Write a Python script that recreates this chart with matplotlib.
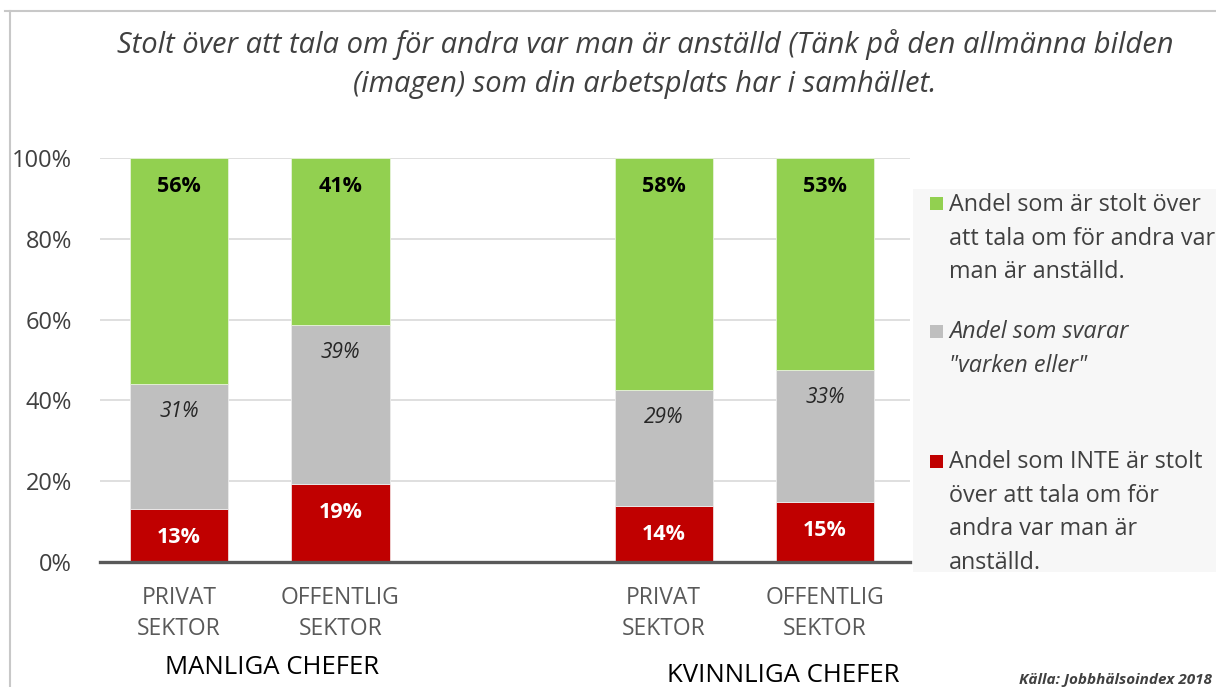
import matplotlib
matplotlib.use("Agg")
import matplotlib.pyplot as plt
from matplotlib.transforms import blended_transform_factory
from matplotlib.lines import Line2D
from matplotlib.patches import Rectangle
import numpy as np

# ---- data ----
categories = ["PRIVAT\nSEKTOR", "OFFENTLIG\nSEKTOR", "PRIVAT\nSEKTOR", "OFFENTLIG\nSEKTOR"]
groups = ["MANLIGA CHEFER", "KVINNLIGA CHEFER"]
not_proud = [13, 19, 14, 15]
neither = [31, 39, 29, 33]
proud = [56, 41, 58, 53]
legend_labels = [
    "Andel som är stolt över\natt tala om för andra var\nman är anställd.",
    "Andel som svarar\n\"varken eller\"",
    "Andel som INTE är stolt\növer att tala om för\nandra var man är\nanställd.",
]
title = ("Stolt över att tala om för andra var man är anställd (Tänk på den allmänna bilden\n"
         "(imagen) som din arbetsplats har i samhället.")
source = "Källa: Jobbhälsoindex 2018"

GREEN, GREY, RED = "#92D050", "#BFBFBF", "#C00000"

W, H = 1216, 687
fig = plt.figure(figsize=(W / 100, H / 100), dpi=100)
fig.patch.set_facecolor("white")

def fx(px): return px / W
def fy(py): return 1 - py / H

ax = fig.add_axes([fx(100), fy(562), fx(910) - fx(100), fy(158) - fy(562)])

x = np.array([0, 1, 3, 4], dtype=float)
tot = np.array(not_proud) + np.array(neither) + np.array(proud)
r = np.array(not_proud) / tot * 100
g = np.array(neither) / tot * 100
p = np.array(proud) / tot * 100

bw = 0.607
ax.bar(x, r, bw, color=RED, edgecolor="#f2dcdc", linewidth=0.6, zorder=3)
ax.bar(x, g, bw, bottom=r, color=GREY, edgecolor="#ececec", linewidth=0.6, zorder=3)
ax.bar(x, p, bw, bottom=r + g, color=GREEN, edgecolor="#e6f2da", linewidth=0.6, zorder=3)

off = -20.5  # points below segment top
for i in range(4):
    ax.annotate(f"{proud[i]}%", (x[i], r[i] + g[i] + p[i]), xytext=(0, off), textcoords="offset points",
                ha="center", va="center", fontsize=15.5, fontweight="bold", color="black",
                family="Open Sans", zorder=5)
    ax.annotate(f"{neither[i]}%", (x[i], r[i] + g[i]), xytext=(0, off + 1), textcoords="offset points",
                ha="center", va="center", fontsize=15, style="italic", color="#262626",
                family="Open Sans", zorder=5)
    ax.annotate(f"{not_proud[i]}%", (x[i], r[i]), xytext=(0, off), textcoords="offset points",
                ha="center", va="center", fontsize=15.5, fontweight="bold", color="white",
                family="Open Sans", zorder=5)

ax.set_xlim(-0.489, 4.526)
ax.set_ylim(0, 100)
ax.set_yticks(np.arange(0, 101, 20))
ax.set_yticklabels([f"{v}%" for v in range(0, 101, 20)], fontsize=17, color="#404040", family="Open Sans")
ax.set_xticks(x)
ax.set_xticklabels(categories, fontsize=16.5, color="#595959", family="Open Sans", linespacing=1.42)
ax.tick_params(axis="y", length=0, pad=20)
ax.tick_params(axis="x", length=0, pad=17)
ax.grid(axis="y", color="#d9d9d9", linewidth=1.2, zorder=0)
ax.set_axisbelow(True)
for s in ["left", "right", "top"]:
    ax.spines[s].set_visible(False)
ax.spines["bottom"].set_color("#595959")
ax.spines["bottom"].set_linewidth(2.4)
ax.spines["bottom"].set_zorder(6)

trans = blended_transform_factory(ax.transData, fig.transFigure)
ax.text(0.576, fy(667), groups[0], transform=trans, ha="center", va="center", fontsize=18.5,
        color="black", family="Open Sans")
ax.text(3.74, fy(676), groups[1], transform=trans, ha="center", va="center", fontsize=18.5,
        color="black", family="Open Sans")

# title
fig.text(fx(645), fy(64), title, ha="center", va="center", fontsize=21, style="italic",
         color="#404040", family="Open Sans", linespacing=1.42)

# border
fig.add_artist(Line2D([fx(5), 1], [fy(11), fy(11)], color="#c8c8c8", lw=1.5, transform=fig.transFigure))
fig.add_artist(Line2D([fx(10), fx(10)], [fy(11), 0], color="#c8c8c8", lw=1.5, transform=fig.transFigure))

# legend (manual)
fig.add_artist(Rectangle((fx(913), fy(572)), 1 - fx(913), fy(189) - fy(572), transform=fig.transFigure,
                         facecolor="#f7f7f7", edgecolor="none", zorder=0))
leg_colors = [GREEN, GREY, RED]
leg_y = [204, 331, 461]
leg_style = ["normal", "italic", "normal"]
for c, yy, lab, st in zip(leg_colors, leg_y, legend_labels, leg_style):
    fig.add_artist(Rectangle((fx(930), fy(yy + 6.5)), fx(13), 13 / H, transform=fig.transFigure,
                             facecolor=c, edgecolor="none"))
    fig.text(fx(949), fy(yy - 11), lab, ha="left", va="top", fontsize=16.8, style=st,
             color="#404040", family="Open Sans", linespacing=1.53)

fig.text(fx(1212), fy(680), source, ha="right", va="center", fontsize=11, style="italic",
         fontweight="bold", color="#404040", family="Open Sans")

fig.savefig("out.png", dpi=100)
